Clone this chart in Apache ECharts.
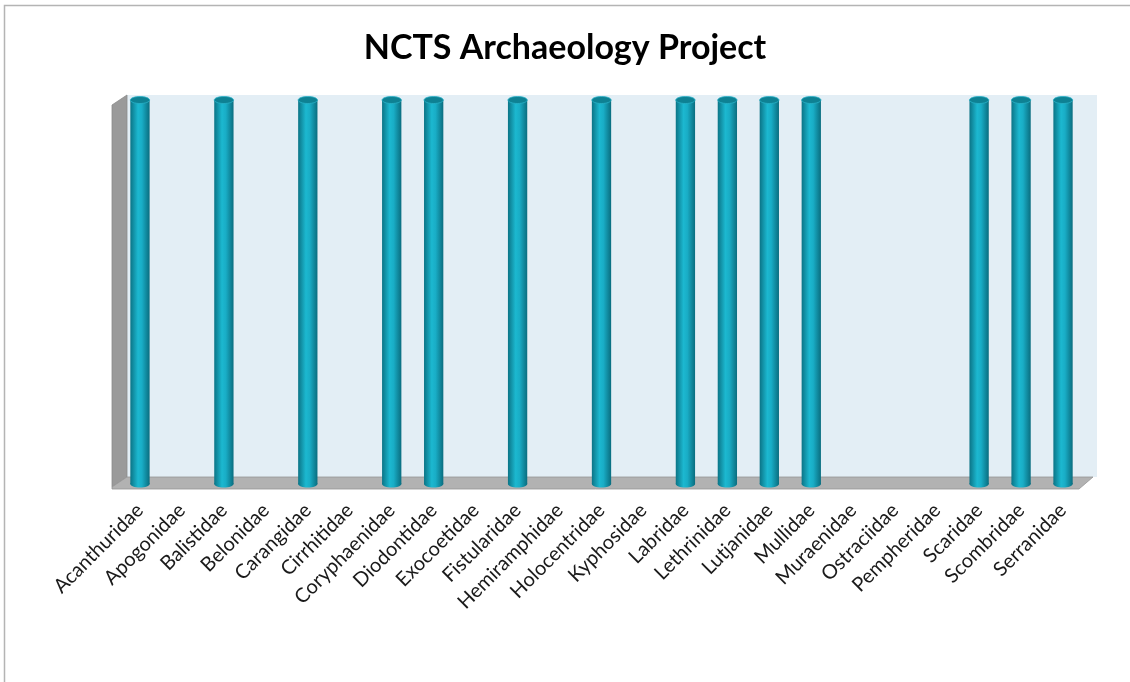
<!DOCTYPE html>
<html>
<head>
<meta charset="utf-8">
<script src="https://cdn.jsdelivr.net/npm/echarts@6/dist/echarts.min.js"></script>
<style>
    html, body { margin: 0; padding: 0; background: #fff; }
    #chart { width: 1130px; height: 682px; }
</style>
</head>
<body>
<div id="chart"></div>
<script>
// families found at the site (1 = present, 0 = not found)
const families = ['Acanthuridae', 'Apogonidae', 'Balistidae', 'Belonidae', 'Carangidae', 'Cirrhitidae',
    'Coryphaenidae', 'Diodontidae', 'Exocoetidae', 'Fistularidae', 'Hemiramphidae', 'Holocentridae',
    'Kyphosidae', 'Labridae', 'Lethrinidae', 'Lutjanidae', 'Mullidae', 'Muraenidae', 'Ostraciidae',
    'Pempheridae', 'Scaridae', 'Scombridae', 'Serranidae']
const present = [1, 0, 1, 0, 1, 0, 1, 1, 0, 1, 0, 1, 0, 1, 1, 1, 1, 0, 0, 0, 1, 1, 1]

const chart = echarts.init(document.getElementById('chart'))

// cylinder body colour
const bodyColor = new echarts.graphic.LinearGradient(0, 0, 1, 0, [
    { offset: 0, color: '#0b7486' },
    { offset: 0.4, color: '#1cb8d0' },
    { offset: 0.6, color: '#19adc6' },
    { offset: 1, color: '#0a6d7f' }
])

function renderCylinder(params, api) {
    const v = api.value(1)
    if (!v) return null
    const top = api.coord([api.value(0), v])
    const base = api.coord([api.value(0), 0])
    const w = api.size([1, 0])[0] * 0.46
    const rx = w / 2
    const ry = 3.5
    return {
        type: 'group',
        children: [
            { type: 'ellipse', shape: { cx: base[0], cy: base[1], rx: rx, ry: ry }, style: { fill: bodyColor } },
            { type: 'rect', shape: { x: top[0] - rx, y: top[1], width: w, height: base[1] - top[1] }, style: { fill: bodyColor } },
            { type: 'ellipse', shape: { cx: top[0], cy: top[1], rx: rx, ry: ry },
              style: { fill: '#0e8193', stroke: '#2ab3c9', lineWidth: 0.8 } }
        ]
    }
}

chart.setOption({
    animation: false,
    title: {
        text: 'NCTS Archaeology Project',
        left: 'center',
        top: 26,
        textStyle: { fontFamily: 'Lato', fontWeight: 'bold', fontSize: 34, color: '#000' }
    },
    graphic: [
        // outer frame
        { type: 'rect', shape: { x: 4.5, y: 5.5, width: 1140, height: 700 }, style: { fill: 'none', stroke: '#b4b4b4', lineWidth: 1.5 }, z: -10 },
        // back wall
        { type: 'rect', shape: { x: 127, y: 95, width: 970, height: 382 }, style: { fill: '#e3eef5' }, z: -5 },
        // side wall
        { type: 'polygon', shape: { points: [[112, 105], [127, 95], [127, 477], [112, 487]] }, style: { fill: '#9a9a9a', stroke: '#8a8a8a', lineWidth: 0.8 }, z: -5 },
        // floor
        { type: 'polygon', shape: { points: [[112, 487], [127, 477], [1093, 477], [1079, 489], [112, 489]] }, style: { fill: '#b2b2b2', stroke: '#959595', lineWidth: 0.8 }, z: -5 }
    ],
    grid: { left: 119, right: 46, top: 100, bottom: 198 },
    xAxis: {
        type: 'category',
        data: families,
        axisLine: { show: false },
        axisTick: { show: false },
        axisLabel: {
            interval: 0,
            rotate: 45,
            margin: 23,
            fontFamily: 'Lato',
            fontSize: 20,
            color: '#1a1a1a'
        }
    },
    yAxis: {
        type: 'value',
        min: 0,
        max: 1,
        show: false
    },
    series: [{
        type: 'custom',
        renderItem: renderCylinder,
        encode: { x: 0, y: 1 },
        data: present.map((v, i) => [i, v])
    }]
})
</script>
</body>
</html>
